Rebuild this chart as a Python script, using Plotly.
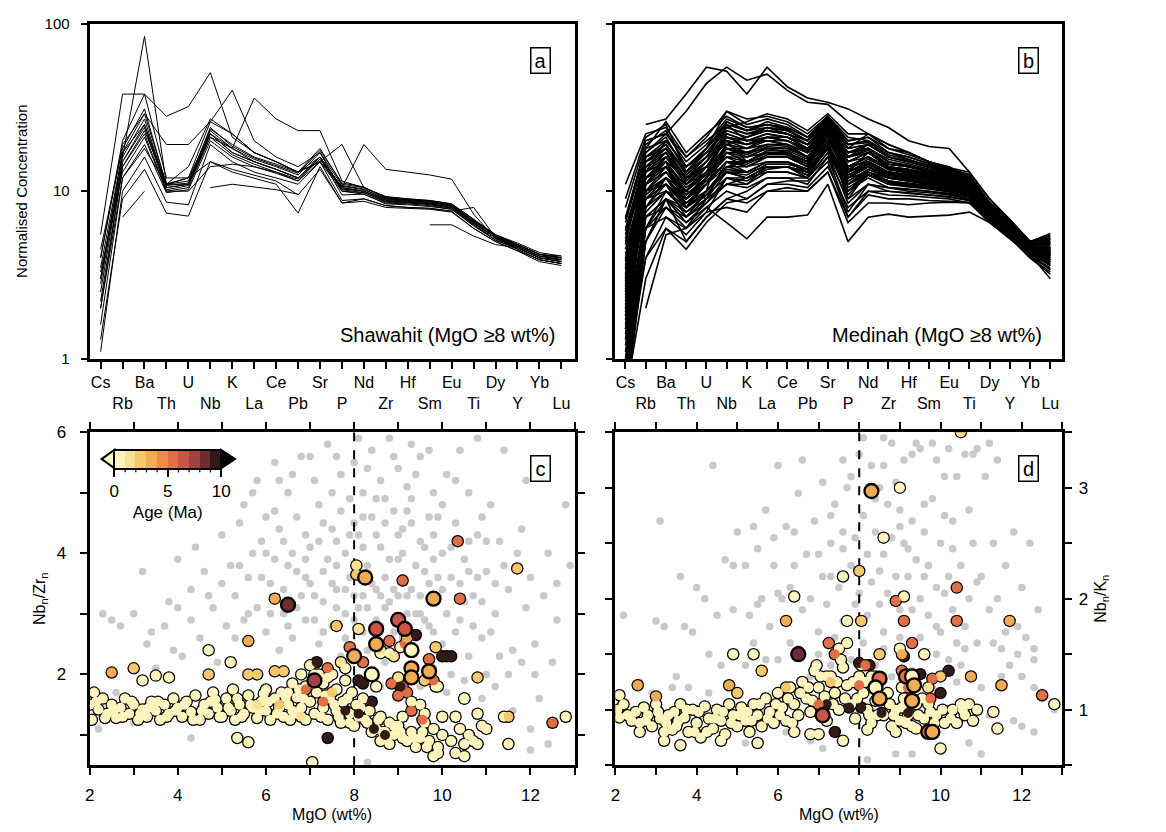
import plotly.graph_objects as go

# ---------------- DATA ----------------
ELEMENTS = ["Cs","Rb","Ba","Th","U","Nb","K","La","Ce","Pb","Sr","P","Nd","Zr","Hf","Sm","Eu","Ti","Dy","Y","Yb","Lu"]

SHAWAHIT = [
    [3.0,16,27,10.5,11,23,18,15.5,14,12.5,17,10.8,10.3,9.0,8.8,8.6,8.2,6.6,5.4,4.8,4.2,4.0],
    [2.5,15,24,10.2,10.8,22,17,15,13.5,12,16,10.5,10,8.8,8.6,8.4,8.0,6.4,5.3,4.7,4.1,3.9],
    [2.0,14,22,10,10.5,21,16.5,14.5,13,11.8,15.5,10.2,9.8,8.6,8.5,8.3,7.9,6.3,5.2,4.6,4.0,3.8],
    [3.5,17,29,11,11.5,23.5,19,16,14.5,13,18,11,10.5,9.2,9.0,8.8,8.4,6.8,5.5,4.9,4.3,4.1],
    [1.6,12,19,9.8,10.2,20,16,14,12.8,11.5,15,10,9.6,8.5,8.4,8.2,7.8,6.2,5.1,4.5,3.9,3.7],
    [4.5,18,31,10.8,11.2,24,18.5,15.8,14.2,12.8,17.5,11.2,10.6,9.1,8.9,8.7,8.3,6.7,5.5,4.8,4.2,4.1],
    [1.1,10,16,8.6,8.3,19,15,13,12,11,15,8.8,9.0,8.2,8.0,7.9,7.6,6.0,5.0,4.4,3.8,3.6],
    [1.3,9,13.5,7.4,7.1,15,13,12,11,7.4,14,8.5,8.7,8.0,7.9,7.8,7.5,6.0,5.0,4.4,3.9,3.7],
    [5.5,38,38,28,32,51,21,17,15,13,16,10.5,10,8.9,8.7,8.5,8.2,6.5,5.3,4.7,4.1,3.9],
    [None,16,84,11,11,22,17,15,13.5,12,16,10.3,10,8.8,8.6,8.4,8.0,6.4,5.3,4.6,4.0,3.9],
    [4.0,20,38,12,12,26,40,20,16,14,17,10,9.8,8.7,8.6,8.4,8.1,6.5,5.3,4.7,4.1,4.0],
    [3.0,17,25,10.5,11,21,18,36,27,23,23,11.5,10.5,9.3,9.0,8.8,8.4,6.8,5.4,4.8,4.2,4.0],
    [2.2,14,23,11,14,27,22,17,15,13,15,19,10.5,9.2,8.9,8.7,8.3,6.7,5.4,4.8,4.2,4.0],
    [2.8,15,25,11,12,22,18,15,13.5,12,16,10.5,19,13.5,13,12.5,11.8,7.3,5.2,4.7,4.1,3.9],
    [None,7,10,None,None,None,None,None,None,None,None,None,None,None,None,None,None,None,None,None,None,None],
    [None,None,None,None,None,10.5,11,10.6,10.2,9.6,None,None,None,None,None,None,None,None,None,None,None,None],
    [None,None,None,None,None,None,None,None,None,None,None,None,None,None,None,6.3,6.3,5.4,4.8,4.6,4.0,3.8],
    [2.0,12,18,11,12,15,13.5,12.5,11.5,9.5,13.5,8.5,9.0,8.2,8.0,7.9,7.6,8.0,5.3,4.5,3.9,3.7],
    [4.0,19,29,19,19,26,22,17,15,13,15,10.7,10.2,9.0,8.8,8.6,8.2,6.6,5.4,4.8,4.2,4.0],
    [3.3,13,21,10,10,14,14.5,14,13,11.5,16,9.5,9.6,8.4,8.3,8.1,7.8,6.3,5.1,4.6,4.0,3.8],
]

MEDINAH = [
    [None,25,27,38,55,52,38,55,42,36,34,31,27,24,20,18.5,18,13,9,6.5,5,5.5],
    [None,20,22,30,44,55,46,50,40,34,33,26,22,19,17,15,14,12,8.5,6.5,5,5.2],
    [0.7,4,7,6,8,6.5,5.2,7,7,7.2,11,5,7,7.3,7,7.1,7.2,7.5,6.5,5.3,4.2,3.0],
    [None,2,5.5,6,7.5,8,7.5,10,10,10,13,6.5,8.5,8.5,8.3,8.5,8.6,8.5,6.8,5.5,4.3,3.4],
    [1.0,6,8,6.5,8,10,9,11,11,10.5,14,8,10,9.5,9.4,9.2,9.0,8.5,6.5,5.2,4.1,3.5],
    [1.5,7,9,7,9,11,10.5,12,12,11,16,9,11,10,9.8,9.5,9.2,8.8,6.7,5.4,4.2,3.7],
    [2.0,8,10,7.5,9.5,12,12,13,13,12,17,10,12,10.5,10.3,10,9.6,9.0,6.9,5.5,4.3,3.9],
    [2.5,9,11,8,10,13,13,14,14,12.5,18,11,12.5,11,10.8,10.4,10,9.3,7.0,5.6,4.4,4.0],
    [3.0,10,12,8.5,11,14,14,15,15,13,19,12,13,11.5,11.2,10.8,10.3,9.6,7.1,5.7,4.5,4.1],
    [3.5,11,13,9,11.5,15,15,16,16,14,20,12.5,14,12,11.8,11.2,10.7,9.9,7.2,5.8,4.5,4.2],
    [2.2,12,14,9.5,12,16,16,17,17,15,21,13,14.5,12.5,12.2,11.6,11,10.2,7.3,5.9,4.6,4.3],
    [4.0,13,15,10,13,17,17,18,18,16,22,14,15,13,12.6,12,11.3,10.4,7.4,6.0,4.6,4.4],
    [5.0,14,16,11,14,18,18,19,19,17,23,15,16,13.5,13,12.4,11.6,10.6,7.5,6.0,4.7,4.5],
    [6.0,15,18,12,15,20,19,20,20,18,24,16,17,14,13.5,12.8,12,10.9,7.6,6.1,4.7,4.6],
    [1.8,16,19,13,16,22,20,21,21,19,25,17,18,15,14,13.2,12.3,11.2,7.8,6.2,4.8,4.8],
    [3.2,18,20,14,17,24,22,23,22,20,26,18,19,16,15,14,12.8,11.5,8.0,6.3,4.8,5.0],
    [8.0,20,22,15,19,27,24,25,24,21,27,19,20,17,16,14.5,13.2,12,8.3,6.5,4.9,5.3],
    [11,22,24,16,21,30,27,28,26,22,28,20,21,18,17,15,13.5,12.5,8.5,6.6,5.0,5.6],
    [0.8,5,9,5,7,9,8.5,10,10.5,10,13,7,9.5,9,9,8.8,8.7,8.6,6.6,5.3,4.0,3.2],
    [1.2,8,12,10,9,15,13,15,15,13,20,9,13,11.5,11,10.5,10,9.5,7.0,5.6,4.3,3.8],
    [2.8,11,16,12,14,13,12,14,14,12,19,11,13,11,10.8,10.5,10.2,9.8,7.2,5.7,4.5,4.3],
    [4.5,13,20,14,17,20,15,16,16,14,21,12,14,12,11.5,11,10.5,10,7.3,5.8,4.6,4.5],
    [1.5,9,10,8,12,18,17,19,19,16,24,14,16,14,13,12.2,11.5,10.5,7.5,6.0,4.6,4.2],
    [3.0,12,14,9,13,22,20,22,21,18,26,17,18,15,14,13,12,11,7.7,6.1,4.7,4.4],
    [2.0,10,11,7,10,14,15,17,17,15,22,12,15,13,12.5,12,11.2,10.3,7.4,5.9,4.5,4.0],
    [6.5,17,22,16,20,25,20,20,19,17,25,14,16,13.5,13,12.5,11.8,11,7.8,6.2,4.7,4.7],
    [1.0,6,7,5.5,7.5,12,11,13,13,12,17,8.5,11,10.5,10.2,10,9.7,9.2,6.9,5.5,4.3,3.6],
    [3.8,14,17,12,16,19,21,24,23,20,27,20,21,17,15.5,14,12.5,11.5,8.0,6.3,4.8,4.9],
    [2.4,12,15,8,10,26,23,24,22,19,25,15,17,14,13.5,12.8,12,10.8,7.6,6.0,4.6,4.3],
    [5.5,16,18,13,18,30,25,27,25,21,27,18,22,19,17,15,13.8,13,9,6.8,5,5.2],
    [1.4,7,8,6,9,11,11,14,14,13,18,10,13,12,11.5,11,10.5,9.8,7.1,5.6,4.4,3.8],
    [0.9,4,6,5,7,9,10,12,12,12,16,7.5,11,10.5,10,9.8,9.5,9.0,6.8,5.4,4.1,3.4],
    [7.0,18,26,17,22,28,24,25,23,20,28,21,20,16,15,14,13,12,8.2,6.4,4.9,5.1],
    [2.6,11,13,10,14,20,18,21,20,17,23,13,17,14.5,14,13,12.2,11,7.5,6,4.6,4.4],
    [3.6,13,16,11,15,23,21,23,22,19,26,16,19,16,15,13.8,12.8,11.8,7.9,6.2,4.7,4.6],
    [1.9,9,12,9,11,17,16,18,18,16,23,13,15,13,12.5,12,11.3,10.4,7.4,5.9,4.5,4.1],
    [0.6,3,6,4.5,6.5,8.5,9,11,11.5,11.5,15,7,10,10,9.7,9.5,9.3,8.8,6.7,5.3,4.0,3.3],
    [9.0,21,25,13,18,24,26,29,27,23,29,22,22,18,16.5,15,13.6,12.6,8.6,6.7,5.0,5.4],
    [1.1,8,11,8.5,10,14,13,15,15,13.5,19,11,13,11.5,11,10.7,10.2,9.6,7.1,5.7,4.4,3.9],
    [2.3,10,13,9.5,12,17,15,17,17,15,22,13,15,12.8,12.3,11.8,11.1,10.2,7.4,5.9,4.5,4.2],
    [4.2,12,15,10.5,13,19,18,20,19,17,24,15,17,14,13.4,12.6,11.8,10.8,7.7,6.1,4.6,4.5],
    [0.75,5,8,7,8.5,11,12,14,14,13,18,10.5,12.5,11,10.6,10.3,9.9,9.3,7.0,5.6,4.3,3.7],
    [3.4,14,18,11.5,15,21,19,21,20,18,25,16,17.5,14.5,14,13.2,12.2,11.1,7.8,6.2,4.7,4.6],
    [1.7,9.5,12,10,13,16,14,16,16,14.5,21,12,14,12.2,11.8,11.3,10.8,10,7.3,5.8,4.5,4.1],
    [5.2,15,19,12.5,16,24,22,24,23,20,27,18,19,16,15.2,14,12.9,11.7,8.0,6.3,4.8,4.8],
    [2.9,11,14,9,12,19,17,19,18.5,16,23,14,16,13.6,13,12.3,11.5,10.6,7.6,6.0,4.6,4.3],
    [0.85,6,9,7.5,9,13,12.5,14.5,14.5,13.5,19,11.5,13.5,12,11.6,11.1,10.6,9.9,7.2,5.7,4.4,3.9],
    [6.8,19,23,14,18,26,23,26,24,21,28,19,20,17,16,14.6,13.4,12.2,8.3,6.5,4.9,5.2],
    [2.1,10,12,8,11,15,14.5,16.5,16.5,15,21,12.5,14.5,12.7,12.2,11.7,11,10.1,7.3,5.8,4.5,4.0],
    [3.9,13,17,11,14,21,20,22,21,19,26,17,18,15.5,14.6,13.6,12.6,11.4,7.9,6.2,4.7,4.6],
    [0.5,5,9,8,10,13,12,14,14,12.5,18,10,12.5,11.2,10.8,10.4,10,9.4,7.0,5.6,4.3,3.8],
    [0.55,6,10,9,11,15,14,16,16,14,21,12,14.5,12.6,12.1,11.5,10.9,10.1,7.3,5.8,4.5,4.1],
    [1.3,11,15,12,14,18,16,18,17,15,22,13,15,13,12.5,12,11.4,10.5,7.5,6.0,4.6,4.3],
    [2.7,15,17,11,14,20,19,21,21,18,25,16,18,15,14.3,13.3,12.4,11.3,7.8,6.2,4.7,4.6],
    [4.8,17,21,13,17,23,21,23,22,19,26,17,19,16,15,14,13,11.8,8.0,6.4,4.8,4.9],
    [0.65,7,9,6.5,8.5,12,11.5,13.5,14,13,18,9.5,12.5,11.3,11,10.6,10.1,9.5,7.1,5.6,4.3,3.6],
    [1.6,10,14,11,13,17,15,17,16.5,14.5,22,12,14,12.4,12,11.6,11,10.2,7.4,5.9,4.5,4.2],
    [3.1,12,16,12,15,21,19,21,20,17.5,25,15,17,14.5,14,13.2,12.3,11.2,7.7,6.1,4.7,4.5],
    [5.8,16,20,14,18,25,23,25,23.5,20,27,19,19.5,16.5,15.4,14.3,13.1,12,8.1,6.4,4.8,5.0],
    [0.95,7.5,10,8,9.5,13.5,13,15,15,13.5,19,11,13.5,12,11.5,11,10.5,9.8,7.2,5.7,4.4,3.9],
    [2.5,12,14,10,12.5,18,16.5,18.5,18,16,23,14,16,13.8,13.2,12.5,11.7,10.7,7.6,6.0,4.6,4.3],
    [1.8,9,11,9,12,16,15,17.5,17.5,15.5,22,13.5,15.5,13.5,12.8,12.2,11.5,10.5,7.5,5.9,4.5,4.2],
]

GREY_C = [(2.3,3.0),(2.5,2.9),(2.7,2.8),(3.0,3.0),(3.2,3.7),(3.3,2.5),(3.5,2.1),(3.4,2.7),(3.8,3.2),(4.0,3.9),(3.9,2.4),(4.1,2.3),(4.3,3.4),(4.4,4.1),(4.5,2.6),(4.6,3.7),(4.8,3.1),(4.9,2.2),(5.0,4.3),(5.1,2.8),(5.2,3.8),(5.3,3.3),(5.4,4.5),(5.5,2.9),(5.6,3.6),(5.7,5.0),(5.8,3.1),(5.9,4.2),(6.0,2.7),(6.1,3.5),(6.2,5.5),(6.3,4.4),(6.3,2.4),(6.4,3.0),(6.5,5.0),(6.5,3.8),(6.6,2.6),(6.7,4.6),(6.8,3.3),(6.8,5.6),(6.9,2.9),(7.0,4.1),(7.0,3.5),(7.1,5.2),(7.2,2.5),(7.2,4.8),(7.3,3.2),(7.4,3.9),(7.4,5.8),(7.5,2.8),(7.5,4.4),(7.6,3.4),(7.7,5.3),(7.7,2.3),(7.8,4.0),(7.8,3.0),(7.9,4.9),(7.9,3.6),(8.0,5.5),(8.1,4.3),(8.1,3.1),(8.2,5.0),(8.2,2.7),(8.3,3.8),(8.4,5.7),(8.4,4.6),(8.5,3.4),(8.5,2.9),(8.6,5.2),(8.6,4.1),(8.7,3.6),(8.8,5.9),(8.8,3.2),(8.9,4.7),(9.0,5.4),(9.0,3.9),(9.1,2.6),(9.1,4.4),(9.2,5.1),(9.3,3.4),(9.3,4.9),(9.4,3.0),(9.5,4.2),(9.5,5.6),(9.6,3.7),(9.7,2.8),(9.7,4.6),(9.8,5.0),(9.9,3.3),(10.0,4.0),(10.0,2.5),(10.1,5.3),(10.2,3.6),(10.3,4.5),(10.4,2.9),(10.5,3.9),(10.6,5.0),(10.7,3.3),(10.8,4.3),(10.9,2.6),(11.0,3.7),(11.1,4.8),(11.2,3.0),(11.3,4.2),(11.4,5.7),(11.5,3.4),(11.6,2.4),(11.7,4.0),(11.9,3.1),(12.0,3.6),(12.1,2.5),(12.2,1.6),(12.3,3.3),(12.4,4.0),(12.6,2.9),(12.8,4.8),(12.0,1.1),(11.6,1.4),(10.9,1.1),(7.6,3.1),(7.8,2.6),(8.0,2.9),(8.2,3.3),(8.3,2.4),(8.6,2.8),(8.7,3.1),(8.9,2.7),(9.0,3.3),(9.2,3.0),(9.4,2.6),(9.5,3.3),(9.6,2.9),(9.8,2.7),(9.9,3.6),(10.1,3.0),(10.3,2.7),(10.5,3.2),(10.7,2.8),(10.9,3.2),(11.1,2.7),(11.3,2.3),(11.5,2.0),(11.8,2.2),(12.1,2.0),(11.0,2.0),(10.6,2.3),(10.2,2.0),(7.1,2.9),(6.9,3.6),(6.7,3.1),(6.4,3.4),(6.1,3.0),(5.9,3.6),(5.6,3.0),(5.3,2.6),(5.0,3.5),(4.7,3.3),(4.3,2.9),(4.0,3.1),(3.7,2.8),(7.3,3.7),(7.6,4.2),(7.7,4.7),(8.0,4.5),(8.2,4.1),(8.5,4.9),(8.7,4.5),(9.1,4.0),(9.2,4.7),(9.4,5.3),(9.8,4.3),(10.0,4.8),(10.3,5.2),(10.6,4.2),(10.9,4.6),(8.3,5.4),(8.9,5.6),(9.7,5.7),(10.8,5.9),(7.5,5.0),(6.9,4.3),(6.6,4.0),(6.0,4.0),(5.7,4.0),(5.4,3.8),(6.2,4.7),(6.6,5.3),(7.0,5.6),(7.3,4.5),(8.6,1.8),(9.0,1.7),(9.5,1.8),(10.1,1.7),(10.5,1.9),(10.9,1.6),(8.7,2.2),(9.8,2.1),(11.2,1.8),(12.5,2.2),(12.9,3.8),(11.8,4.4),(3.0,1.2),(2.6,1.7),(2.2,1.1),(4.3,0.95),(7.05,0.6),(8.3,0.55),(12.4,0.85),(12.0,0.75),
    (6.2,3.9),(6.4,4.2),(6.5,2.8),(6.7,3.7),(6.9,3.9),(7.1,3.3),(7.2,4.2),(7.3,2.7),(7.5,3.5),(7.6,3.8),(7.8,3.4),(7.9,4.3),(8.0,3.3),(8.1,3.8),(8.2,4.6),(8.3,3.1),(8.4,3.5),(8.5,4.3),(8.6,3.3),(8.7,4.9),(8.8,3.9),(8.9,3.4),(9.0,4.3),(9.1,3.6),(9.2,3.3),(9.3,4.5),(9.4,3.8),(9.5,3.0),(9.6,4.1),(9.7,3.5),(9.8,3.9),(9.9,4.6),(10.0,3.4),(10.2,4.1),(10.4,3.5),(10.6,3.7),(10.8,3.6),(11.0,4.2),(11.2,3.5),(11.4,3.8),(5.5,4.8),(5.8,5.2),(6.0,4.6),(6.3,5.2),(7.6,5.6),(8.1,5.9),(9.3,5.8),(10.4,5.7),(11.9,5.2),(12.6,3.5)]

GREY_D = [(2.2,1.85),(2.6,1.25),(3.1,2.7),(3.0,1.8),(3.2,1.75),(3.7,1.75),(3.5,1.3),(4.0,2.1),(4.2,2.0),(4.4,3.2),(4.3,1.5),(4.6,1.4),(4.7,2.35),(5.0,2.6),(4.9,1.9),(5.2,2.3),(5.3,1.85),(5.5,2.45),(5.4,1.6),(5.6,2.0),(5.7,2.8),(5.8,1.75),(5.9,2.3),(6.0,3.2),(6.1,2.0),(6.2,2.65),(6.3,1.6),(6.4,2.3),(6.5,2.95),(6.6,1.9),(6.7,2.4),(6.8,2.0),(6.9,2.7),(7.0,1.7),(7.1,2.2),(7.2,1.95),(7.3,2.5),(7.4,2.85),(7.5,2.1),(7.6,1.8),(7.6,2.6),(7.7,3.0),(7.8,2.3),(7.9,1.95),(7.9,2.55),(8.0,3.3),(8.0,2.05),(8.1,2.75),(8.2,2.4),(8.2,1.85),(8.3,3.2),(8.3,2.15),(8.4,2.6),(8.5,3.0),(8.5,1.95),(8.6,2.4),(8.7,2.85),(8.7,2.05),(8.8,3.4),(8.8,2.55),(8.9,2.2),(9.0,2.8),(9.0,1.9),(9.1,2.5),(9.1,3.25),(9.2,2.2),(9.3,2.7),(9.3,1.9),(9.4,2.35),(9.5,3.35),(9.5,2.0),(9.6,2.6),(9.7,1.85),(9.7,2.3),(9.8,2.9),(9.9,2.1),(10.0,1.7),(10.0,2.5),(10.1,3.1),(10.2,2.2),(10.3,1.9),(10.3,2.7),(10.4,1.6),(10.5,2.3),(10.6,3.3),(10.6,1.75),(10.7,2.0),(10.8,2.5),(10.9,1.6),(11.0,2.2),(11.1,3.1),(11.2,1.9),(11.3,1.6),(11.4,2.0),(11.6,1.7),(11.7,1.4),(11.9,1.5),(12.0,1.3),(12.2,2.5),(12.3,1.2),(12.5,1.1),(12.8,1.0),(11.5,1.3),(11.0,1.2),(10.5,1.4),(10.2,1.45),(9.9,1.5),(9.5,1.65),(9.0,1.65),(8.6,1.7),(8.1,1.6),(7.4,1.65),(7.0,1.5),(6.5,1.55),(6.0,1.45),(5.7,1.45),(5.2,1.4),(4.8,1.2),(4.3,1.15),(3.8,1.2),(3.4,1.2),(2.9,1.15),(6.8,1.3),(7.3,1.4),(7.8,1.45),(8.4,1.4),(8.8,1.3),(9.3,1.35),(9.8,1.2),(10.4,1.25),(11.2,0.95),(11.8,0.9),(12.0,0.85),(12.3,0.8),(6.2,0.8),(6.8,0.72),(7.1,0.65),(8.2,0.55),(8.9,0.6),(9.3,0.6),(11.0,0.6),(5.2,0.7),(10.7,0.7),(12.1,1.65),(12.3,1.45),(6.6,3.25),(7.1,3.05),(7.6,3.25),(8.1,3.45),(8.6,3.2),(9.4,3.4),(9.9,3.25),(10.4,3.1),(10.9,3.35),(11.2,3.4),(5.4,2.65),(6.4,2.6),(7.3,2.75),(8.9,3.05),(9.6,2.85),(10.3,2.45),(7.0,2.4),(6.0,2.05),(5.5,1.95),(4.5,1.85),(3.9,1.7),(12.0,2.1),(11.6,2.3),(11.9,1.75),(8.6,3.45),(9.3,3.3),(9.8,3.4),(10.2,3.35),(10.8,3.3),(11.4,3.25),(7.8,3.1),(8.4,2.9),(9.0,2.65),(9.6,2.2),(10.1,2.75),(10.7,2.8),(11.3,2.5),(11.8,2.6),(12.4,1.9),(3.6,2.2),(4.9,2.3),(5.9,2.55),(6.3,2.1),(7.3,2.2),(7.6,2.45),(8.5,2.25),(9.2,2.45),(10.1,2.05),(10.9,2.15),(11.5,1.55),(12.3,1.55),(8.6,1.55),(9.9,1.75),(10.6,1.55)]

# dated samples: (MgO, ratio, age in Ma)
DATED_C = [(2.0,1.5,0.4),(2.05,1.25,0.3),(2.2,1.42,0.5),(2.3,1.6,0.4),(2.4,1.35,0.3),(2.5,1.5,0.6),(2.6,1.28,0.4),(2.7,1.45,0.3),(2.8,1.6,0.5),(2.9,1.35,0.4),(3.0,1.5,0.3),(3.1,1.25,0.4),(3.2,1.42,0.5),(3.3,1.3,0.3),(3.4,1.55,0.4),(3.5,1.4,0.6),(3.6,1.25,0.3),(3.7,1.5,0.4),(3.8,1.35,0.5),(3.9,1.6,0.3),(4.0,1.45,0.4),(4.1,1.3,0.3),(4.2,1.55,0.5),(4.3,1.38,0.4),(4.4,1.65,0.3),(4.5,1.25,0.4),(4.6,1.5,0.6),(4.7,1.35,0.3),(4.8,1.7,0.4),(4.9,1.45,0.5),(5.0,1.3,0.3),(5.1,1.6,0.4),(5.2,1.4,0.3),(5.25,1.75,0.5),(5.3,1.25,0.4),(5.4,1.5,0.3),(5.5,1.35,0.4),(5.6,1.65,0.5),(5.7,1.45,0.3),(5.8,1.28,0.4),(5.9,1.55,0.3),(6.0,1.75,0.4),(6.0,1.4,0.5),(6.1,1.25,0.3),(6.2,1.6,0.4),(6.3,1.45,0.3),(6.4,1.3,0.4),(6.5,1.7,0.5),(6.5,1.5,0.3),(6.6,1.85,0.4),(6.7,1.35,0.3),(6.7,1.62,0.4),(6.8,2.0,0.5),(6.8,1.45,0.3),(6.9,1.8,0.4),(6.9,1.25,0.3),(7.0,2.15,0.4),(7.0,1.55,0.5),(7.1,1.35,0.3),(7.15,1.7,0.4),(7.2,2.0,0.3),(7.3,1.45,0.4),(7.3,1.85,0.5),(7.4,1.25,0.3),(7.45,1.6,0.4),(7.5,2.0,0.3),(7.6,1.4,0.4),(7.6,1.75,0.5),(7.7,1.2,0.3),(7.75,1.55,0.4),(7.8,1.9,0.3),(7.9,1.35,0.4),(7.95,1.7,0.5),(8.0,1.15,0.3),(8.05,1.5,0.4),(8.1,1.3,0.3),(8.2,1.6,0.4),(8.3,1.2,0.5),(8.35,1.4,0.3),(8.5,1.1,0.4),(8.6,1.3,0.3),(8.7,1.05,0.4),(8.8,1.2,0.5),(8.9,1.0,0.3),(9.0,1.15,0.4),(8.6,0.9,0.3),(8.8,0.85,0.4),(9.1,0.95,0.5),(9.3,1.05,0.3),(9.5,0.95,0.4),(9.4,0.8,0.3),(9.6,1.2,0.4),(9.7,0.9,0.5),(9.8,1.1,0.3),(9.9,0.8,0.4),(10.0,1.0,0.3),(10.2,0.9,0.4),(10.4,1.1,0.5),(10.5,0.85,0.3),(10.6,1.0,0.4),(10.7,0.9,0.3),(10.8,0.85,0.4),(10.3,0.7,0.5),(10.5,0.65,0.3),(9.9,0.7,0.4),(9.8,0.65,0.3),(10.0,1.3,0.4),(10.3,1.3,0.5),(10.8,1.35,0.3),(10.9,1.15,0.4),(10.5,1.6,0.3),(9.6,1.35,0.4),(9.5,1.5,0.5),(11.4,1.3,0.3),(11.5,0.85,0.4),(11.0,1.1,0.3),(9.1,1.3,0.4),(9.3,1.55,0.5),(5.35,0.95,0.3),(5.6,0.88,0.4),(7.05,0.55,0.3),(8.6,2.35,0.4),(8.8,2.35,0.3),(9.05,2.45,0.4),(9.85,1.8,0.5),(9.9,1.8,0.4),(8.5,1.8,0.5),
    (2.15,1.55,0.4),(2.35,1.28,0.3),(2.55,1.4,0.4),(2.75,1.3,0.5),(2.95,1.55,0.3),(3.15,1.35,0.4),(3.35,1.45,0.3),(3.55,1.55,0.4),(3.75,1.3,0.5),(3.95,1.4,0.3),(4.15,1.5,0.4),(4.35,1.25,0.3),(4.55,1.4,0.4),(4.75,1.55,0.5),(4.95,1.3,0.3),(5.15,1.45,0.4),(5.35,1.6,0.3),(5.45,1.3,0.4),(5.65,1.5,0.5),(5.85,1.4,0.3),(6.05,1.55,0.4),(6.25,1.35,0.3),(6.35,1.7,0.4),(6.55,1.25,0.5),(6.6,1.4,0.3),(6.75,1.75,0.4),(6.85,1.6,0.3),(7.05,1.85,0.4),(7.1,2.0,0.5),(7.25,1.3,0.3),(7.35,1.65,0.4),(7.4,1.95,0.3),(7.55,1.5,0.4),(7.65,1.3,0.5),(7.85,1.6,0.3),(7.9,1.2,0.4),(8.15,1.45,0.3),(8.25,1.25,0.4),(8.4,1.05,0.5),(8.55,1.25,0.3),(8.65,1.05,0.4),(8.75,0.95,0.3),(8.9,1.15,0.4),(9.05,1.05,0.5),(9.2,0.9,0.3),(9.35,0.95,0.4),(9.55,1.05,0.3),(9.65,0.8,0.4),(2.1,1.7,0.5),(4.85,1.58,0.3),(5.95,1.68,0.4),(6.45,1.62,0.3),
    (2.5,2.03,3.2),(3.0,2.1,2.2),(3.2,1.9,0.5),(3.5,1.98,0.5),(3.8,1.95,0.4),(4.7,2.4,0.5),(4.7,2.0,2.5),(5.2,2.2,0.4),(5.6,2.55,3.2),(5.6,2.0,2.2),(5.8,2.0,2.2),(6.2,3.25,3.3),(6.2,2.05,2.4),(6.4,2.05,2.2),(7.15,2.2,9.5),(7.4,2.1,5.5),(7.6,2.8,2.2),(7.7,2.2,1.2),(7.8,2.1,0.5),(7.9,2.45,5.5),(8.05,3.8,1.5),(8.05,3.65,2.5),(8.1,2.75,1.2),(8.2,2.2,5.5),(8.6,2.4,1.2),(8.8,2.55,5.5),(8.9,2.3,1.2),(9.0,1.95,1.2),(9.15,2.5,5.5),(9.2,2.6,3.5),(9.4,2.65,9.5),(9.6,1.9,2.2),(9.7,2.25,5.5),(9.8,1.9,5.5),(9.85,2.45,2.5),(10.1,2.3,9.5),(10.2,2.3,9.5),(10.0,2.3,9.5),(9.1,3.55,5.5),(10.4,3.25,5.5),(10.35,4.2,5.5),(10.8,1.95,2.5),(10.5,1.6,0.4),(11.7,3.75,2.5),(11.5,1.3,2.5),(12.5,1.2,5.5),(12.8,1.3,0.4),(9.2,1.7,5.5),(9.1,1.8,6.5),(9.0,1.65,5.5),(8.85,1.85,5.5),(8.4,1.55,9.5),(8.7,1.0,9.5),(8.45,1.1,9.5),(8.1,1.35,9.5),(7.8,1.4,9.5),(7.4,0.95,9.5),(9.3,1.4,5.5),(9.55,1.25,5.5),(7.3,1.55,5.5),(6.9,1.75,5.5),(7.5,1.7,2.2),(6.3,1.5,2.2),(6.8,1.3,1.5),(5.8,1.5,1.5),(8.1,1.9,9.5),(8.2,1.85,9.5),(9.05,1.8,9.5)]

BIG_C = [(6.5,3.15,8.5),(7.1,1.9,7.2),(8.0,2.3,3.2),(8.25,3.6,3.2),(8.4,2.0,0.4),(8.5,2.75,6.2),(8.5,2.5,3.2),(9.0,2.9,6.2),(9.15,2.75,6.2),(9.3,2.4,0.4),(9.3,2.1,3.2),(9.3,1.95,3.2),(9.7,2.05,3.2),(9.8,3.25,3.2)]

DATED_D = [(2.05,1.0,0.4),(2.1,0.93,0.3),(2.3,0.95,0.5),(2.5,0.98,0.4),(2.6,0.88,0.3),(2.8,0.95,0.4),(2.9,0.85,0.5),(3.0,1.05,0.3),(3.1,0.92,0.4),(3.2,0.8,0.3),(3.3,0.95,0.4),(3.4,0.82,0.5),(3.6,1.05,0.3),(3.7,0.93,0.4),(3.8,0.8,0.3),(3.9,1.0,0.4),(4.0,0.88,0.5),(4.1,0.75,0.3),(4.2,1.03,0.4),(4.3,0.92,0.3),(4.4,0.83,0.4),(4.5,1.0,0.5),(4.6,0.9,0.3),(4.7,0.78,0.4),(4.8,1.05,0.3),(4.9,0.95,0.4),(5.0,0.85,0.5),(5.1,1.02,0.3),(5.2,0.9,0.4),(5.3,0.8,0.3),(5.4,1.05,0.4),(5.5,0.95,0.5),(5.6,0.85,0.3),(5.7,1.1,0.4),(5.8,0.98,0.3),(5.9,0.88,0.4),(6.0,1.15,0.5),(6.1,1.02,0.3),(6.2,0.9,0.4),(6.3,1.2,0.3),(6.4,1.05,0.4),(6.5,0.95,0.5),(6.6,1.25,0.3),(6.7,1.1,0.4),(6.8,0.98,0.3),(6.9,1.35,0.4),(7.0,1.2,0.5),(7.1,1.05,0.3),(7.2,0.9,0.4),(7.3,1.3,0.3),(7.4,1.15,0.4),(7.5,1.0,0.5),(7.6,1.38,0.3),(7.7,1.22,0.4),(7.8,1.05,0.3),(7.9,0.92,0.4),(8.0,1.3,0.5),(8.1,1.15,0.3),(8.2,1.0,0.4),(8.3,0.88,0.3),(8.4,1.08,0.4),(8.6,0.95,0.5),(8.7,1.15,0.3),(8.8,0.85,0.4),(8.9,1.0,0.3),(9.0,0.9,0.4),(9.1,1.1,0.5),(9.2,0.95,0.3),(9.3,0.85,0.4),(9.4,1.05,0.3),(9.6,0.92,0.4),(9.7,1.05,0.5),(9.9,0.95,0.3),(10.1,0.88,0.4),(10.3,1.0,0.3),(10.4,0.88,0.4),(10.6,0.95,0.5),(10.7,1.05,0.3),(10.8,0.9,0.4),(11.3,0.98,0.3),(11.4,0.83,0.4),(10.0,0.65,0.5),(9.4,0.83,0.3),(8.9,0.8,0.4),(8.2,0.82,0.3),(7.6,0.72,0.4),(7.0,0.78,0.5),(6.4,0.8,0.3),(5.5,0.7,0.4),(4.6,0.72,0.3),(3.6,0.68,0.4),(3.2,0.72,0.5),(2.6,0.8,0.3),(2.1,1.13,0.4),(4.9,1.5,0.4),(5.4,1.5,0.5),(6.4,2.02,0.4),(7.6,2.2,0.3),(7.7,1.8,0.4),(7.7,1.6,0.5),(9.0,3.0,0.4),(8.6,2.55,0.3),(9.1,2.02,0.4),(9.6,1.5,0.5),(10.5,3.5,1.2),(12.8,1.05,0.4),(10.9,1.0,0.3),(3.5,0.85,0.4),(6.8,0.78,0.3),(7.5,1.55,0.4),(9.0,1.55,0.5),(9.3,1.25,0.4),(10.5,1.05,0.3),(9.05,1.2,0.4),(8.3,1.3,0.5),(7.2,1.3,0.4),
    (2.2,1.05,0.4),(2.4,0.9,0.3),(2.7,1.02,0.4),(2.75,0.9,0.5),(3.05,0.98,0.3),(3.25,0.88,0.4),(3.45,0.98,0.3),(3.55,0.9,0.4),(3.75,1.0,0.5),(3.95,0.8,0.3),(4.05,0.98,0.4),(4.25,0.8,0.3),(4.45,0.92,0.4),(4.65,0.98,0.5),(4.85,0.88,0.3),(5.05,0.95,0.4),(5.25,0.98,0.3),(5.35,0.9,0.4),(5.55,1.05,0.5),(5.75,0.92,0.3),(5.95,1.05,0.4),(6.05,0.95,0.3),(6.25,1.1,0.4),(6.35,0.88,0.5),(6.55,1.15,0.3),(6.75,1.2,0.4),(6.85,1.08,0.3),(7.05,1.3,0.4),(7.15,1.12,0.5),(7.35,1.05,0.3),(7.45,1.25,0.4),(7.65,1.1,0.3),(7.85,1.25,0.4),(7.95,1.1,0.5),(8.15,1.25,0.3),(8.25,0.95,0.4),(8.45,0.95,0.3),(8.55,1.1,0.4),(8.75,1.05,0.5),(8.85,0.95,0.3),(9.05,1.02,0.4),(9.15,0.88,0.3),(9.45,0.95,0.4),(9.55,1.1,0.5),(9.75,0.98,0.3),(9.85,0.88,0.4),(10.05,1.0,0.3),(10.25,0.92,0.4),(10.55,1.0,0.5),(6.95,1.4,0.3),(7.55,1.45,0.4),(8.05,1.4,0.3),
    (2.55,1.22,3.2),(3.0,1.12,3.2),(4.8,1.22,3.2),(5.6,1.35,2.5),(6.2,1.8,3.2),(7.25,1.6,5.5),(7.4,1.5,5.5),(8.0,2.25,2.5),(8.05,1.8,2.5),(8.0,1.42,9.5),(8.25,1.4,9.5),(8.4,1.3,1.2),(8.5,1.5,2.5),(8.9,1.98,5.5),(9.1,1.8,5.5),(9.1,1.48,9.5),(9.05,1.5,3.2),(9.3,1.6,5.5),(9.2,1.2,5.5),(9.5,1.32,9.5),(9.7,1.2,1.2),(10.0,1.3,2.5),(10.2,1.35,9.5),(10.0,1.15,9.5),(10.4,1.8,5.5),(10.4,2.1,5.5),(10.75,1.3,3.2),(11.5,1.22,3.2),(11.7,1.8,3.2),(12.5,1.13,5.5),(7.4,0.8,9.5),(7.2,1.05,9.5),(7.75,1.02,9.5),(8.05,1.02,9.5),(8.55,0.97,9.5),(9.2,0.97,9.5),(8.0,1.22,5.5),(8.15,1.4,5.5),(9.05,1.35,5.5),(9.8,1.28,5.5),(9.75,1.1,5.5),(7.0,1.05,5.5),(7.3,1.25,2.5),(6.2,1.2,2.5),(5.0,1.15,2.5)]

BIG_D = [(6.5,1.5,8.5),(7.1,0.95,6.2),(8.3,2.97,3.2),(8.5,1.28,5.5),(8.4,1.2,0.4),(8.5,1.1,3.2),(9.15,1.3,5.5),(9.3,1.3,0.4),(9.35,1.22,3.2),(9.3,1.08,3.2),(9.7,0.8,5.5),(9.8,0.8,3.2)]

MGO_CUTOFF = 8
AGE_COLORS = ["#fff4bd","#fbe193","#f6c86b","#f1ab53","#eb8d48","#df6f46","#c85546","#a24141","#6e2e31","#321a16"]
AGE_TICKS = [0, 5, 10]
AGE_MINOR = [1, 2, 3, 4, 6, 7, 8, 9]

# ---------------- FIGURE ----------------
W, H = 1166, 832
FONT = "Liberation Sans"

n = len(AGE_COLORS)
cscale = []
for i, c in enumerate(AGE_COLORS):
    cscale.append([i / n, c])
    cscale.append([(i + 1) / n, c])

def px_x(p):
    return p / W

def px_y(p):
    return 1 - p / H

dom_a = [px_x(85), px_x(572)]
dom_b = [px_x(613), px_x(1062)]
dom_top = [px_y(357), px_y(15)]
dom_bot = [px_y(772), px_y(432)]

CB_X0, CB_X1, CB_Y0, CB_Y1 = 110, 217, 450, 469

fig = go.Figure()

for vals in SHAWAHIT:
    fig.add_trace(go.Scatter(x=list(range(len(vals))), y=vals, mode="lines",
                             line=dict(color="black", width=1), xaxis="x", yaxis="y",
                             showlegend=False, hoverinfo="skip", connectgaps=False))
for vals in MEDINAH:
    fig.add_trace(go.Scatter(x=list(range(len(vals))), y=vals, mode="lines",
                             line=dict(color="black", width=1.6), xaxis="x2", yaxis="y2",
                             showlegend=False, hoverinfo="skip", connectgaps=False))

def add_scatter_panel(grey, dated, big, xa, ya, yrange, show_cbar):
    fig.add_trace(go.Scatter(x=[p[0] for p in grey], y=[p[1] for p in grey], mode="markers",
                             marker=dict(color="#c9c9cb", size=7.5), xaxis=xa, yaxis=ya,
                             showlegend=False, hoverinfo="skip"))
    fig.add_trace(go.Scatter(x=[MGO_CUTOFF, MGO_CUTOFF], y=yrange, mode="lines",
                             line=dict(color="black", width=2, dash="dash"), xaxis=xa, yaxis=ya,
                             showlegend=False, hoverinfo="skip"))
    fig.add_trace(go.Scatter(x=[p[0] for p in dated], y=[p[1] for p in dated], mode="markers",
                             marker=dict(color="black", size=12.5), xaxis=xa, yaxis=ya,
                             showlegend=False, hoverinfo="skip"))
    cbar = dict(orientation="h", x=px_x((CB_X0 + CB_X1) / 2), xanchor="center",
                y=px_y(CB_Y0), yanchor="top", xpad=0, ypad=0,
                len=CB_X1 - CB_X0, lenmode="pixels", thickness=CB_Y1 - CB_Y0,
                outlinewidth=2, outlinecolor="black",
                tickmode="array", tickvals=AGE_TICKS, ticktext=[str(v) for v in AGE_TICKS],
                ticks="outside", ticklen=7, tickwidth=1.5, tickcolor="black",
                tickfont=dict(family=FONT, size=17, color="black"),
                title=dict(text="Age (Ma)", side="bottom", font=dict(family=FONT, size=17, color="black")))
    fig.add_trace(go.Scatter(x=[p[0] for p in dated], y=[p[1] for p in dated], mode="markers",
                             marker=dict(color=[p[2] for p in dated], colorscale=cscale, cmin=0, cmax=10,
                                         size=10, line=dict(width=0), showscale=show_cbar,
                                         colorbar=cbar if show_cbar else None),
                             xaxis=xa, yaxis=ya, showlegend=False, hoverinfo="skip"))
    fig.add_trace(go.Scatter(x=[p[0] for p in big], y=[p[1] for p in big], mode="markers",
                             marker=dict(color=[p[2] for p in big], colorscale=cscale, cmin=0, cmax=10,
                                         size=14, line=dict(width=2.3, color="black")),
                             xaxis=xa, yaxis=ya, showlegend=False, hoverinfo="skip"))

add_scatter_panel(GREY_C, DATED_C, BIG_C, "x3", "y3", [0.5, 6], True)
add_scatter_panel(GREY_D, DATED_D, BIG_D, "x4", "y4", [0.5, 3.5], False)

tickfont = dict(family=FONT, size=16, color="black")
frame = dict(showline=True, linewidth=3, linecolor="black", showgrid=False, zeroline=False)

elem_text = [e if i % 2 == 0 else "<br>" + e for i, e in enumerate(ELEMENTS)]
xcat = dict(frame, range=[-0.5, 21.6], tickmode="array", tickvals=list(range(len(ELEMENTS))),
            ticktext=elem_text, tickangle=0, ticks="outside", ticklen=7, tickwidth=1.5, tickcolor="black",
            tickfont=tickfont, mirror=True)
ylog = dict(frame, type="log", range=[0, 2], tickmode="array", tickvals=[1, 10, 100],
            ticktext=["1", "10", "100"], ticks="outside", ticklen=6, tickwidth=1.5, ticklabelstandoff=8,
            tickcolor="black", tickfont=dict(family=FONT, size=15, color="black"), mirror=True)

minor_x = dict(tickvals=[3, 5, 7, 9, 11, 13], ticks="outside", ticklen=7, tickwidth=1.5, tickcolor="black", showgrid=False)
xmgo = dict(frame, range=[2, 13], tickmode="array", tickvals=[2, 4, 6, 8, 10, 12],
            ticks="outside", ticklen=7, tickwidth=1.5, tickcolor="black", ticklabelstandoff=5,
            tickfont=dict(family=FONT, size=17, color="black"), minor=minor_x, tickangle=0,
            mirror="allticks", title=dict(text="MgO (wt%)", font=dict(family=FONT, size=16, color="black"), standoff=6))

fig.update_layout(
    width=W, height=H, margin=dict(l=0, r=0, t=0, b=0),
    paper_bgcolor="white", plot_bgcolor="white", showlegend=False,
    font=dict(family=FONT, color="black"),
    xaxis=dict(xcat, domain=dom_a, anchor="y"),
    yaxis=dict(ylog, domain=dom_top, anchor="x",
               title=dict(text="Normalised Concentration", font=dict(family=FONT, size=15, color="black"), standoff=14)),
    xaxis2=dict(xcat, domain=dom_b, anchor="y2"),
    yaxis2=dict(ylog, domain=dom_top, anchor="x2", showticklabels=False),
    xaxis3=dict(xmgo, domain=dom_a, anchor="y3"),
    yaxis3=dict(frame, domain=dom_bot, anchor="x3", range=[0.5, 6], tickmode="array",
                tickvals=[2, 4, 6],
                minor=dict(tickvals=[1, 3, 5], ticks="outside", ticklen=7, tickwidth=1.5, tickcolor="black", showgrid=False),
                ticks="outside", ticklen=7, tickwidth=1.5, tickcolor="black", ticklabelstandoff=10,
                tickfont=dict(family=FONT, size=17, color="black"), mirror="allticks",
                title=dict(text="Nb<sub>n</sub>/Zr<sub>n</sub>", font=dict(family=FONT, size=16, color="black"), standoff=8)),
    xaxis4=dict(xmgo, domain=dom_b, anchor="y4"),
    yaxis4=dict(frame, domain=dom_bot, anchor="x4", side="right", range=[0.5, 3.5], tickmode="array",
                tickvals=[1, 2, 3],
                minor=dict(tickvals=[0.5, 1.5, 2.5, 3.5], ticks="outside", ticklen=7, tickwidth=1.5, tickcolor="black", showgrid=False),
                ticks="outside", ticklen=7, tickwidth=1.5, tickcolor="black", ticklabelstandoff=3,
                tickfont=dict(family=FONT, size=17, color="black"), mirror="allticks",
                title=dict(text="Nb<sub>n</sub>/K<sub>n</sub>", font=dict(family=FONT, size=16, color="black"), standoff=8)),
)

for lab, xr, yr, xp in [("a", "x domain", "y domain", 0.951), ("b", "x2 domain", "y2 domain", 0.947),
                        ("c", "x3 domain", "y3 domain", 0.951), ("d", "x4 domain", "y4 domain", 0.947)]:
    fig.add_annotation(text=lab, xref=xr, yref=yr, x=xp, y=0.93, showarrow=False,
                       font=dict(family=FONT, size=20, color="black"), bordercolor="black",
                       borderwidth=1.5, borderpad=1, bgcolor="white", width=16, height=22)

fig.add_annotation(text="Shawahit (MgO \u22658 wt%)", xref="x domain", yref="y domain", x=0.966, y=0.07,
                   xanchor="right", yanchor="middle", showarrow=False,
                   font=dict(family=FONT, size=20, color="black"))
fig.add_annotation(text="Medinah (MgO \u22658 wt%)", xref="x2 domain", yref="y2 domain", x=0.958, y=0.07,
                   xanchor="right", yanchor="middle", showarrow=False,
                   font=dict(family=FONT, size=20, color="black"))

cy_mid = (CB_Y0 + CB_Y1) / 2
fig.add_shape(type="path", xref="paper", yref="paper",
              path=f"M {px_x(CB_X0)} {px_y(CB_Y0)} L {px_x(CB_X0 - 13)} {px_y(cy_mid)} L {px_x(CB_X0)} {px_y(CB_Y1)} Z",
              fillcolor=AGE_COLORS[0], line=dict(color="black", width=2))
fig.add_shape(type="path", xref="paper", yref="paper",
              path=f"M {px_x(CB_X1)} {px_y(CB_Y0)} L {px_x(CB_X1 + 14)} {px_y(cy_mid)} L {px_x(CB_X1)} {px_y(CB_Y1)} Z",
              fillcolor="black", line=dict(color="black", width=2))
for a in AGE_MINOR:
    xp = CB_X0 + (CB_X1 - CB_X0) * a / 10
    fig.add_shape(type="line", xref="paper", yref="paper", x0=px_x(xp), x1=px_x(xp),
                  y0=px_y(CB_Y1), y1=px_y(CB_Y1 + 4), line=dict(color="black", width=1.2))

fig.write_html("out.html")
